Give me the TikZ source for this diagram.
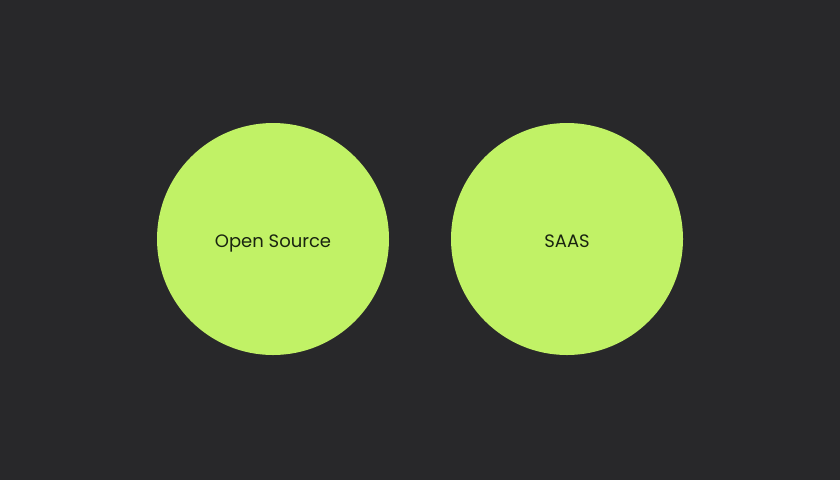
\documentclass[tikz,border=0pt]{standalone}
\usepackage{fontspec}
\setmainfont{Poppins}
\definecolor{bg}{HTML}{28282A}
\definecolor{lime}{HTML}{C1F266}
\definecolor{ink}{HTML}{1A2410}
\begin{document}
\begin{tikzpicture}[x=1pt,y=-1pt,
  blob/.style={circle,fill=lime,draw=none,minimum size=232pt,inner sep=0pt},
  lbl/.style={text=ink,font=\fontsize{18}{22}\selectfont,anchor=base}]
\fill[bg] (0,0) rectangle (840,480);
\useasboundingbox (0,0) rectangle (840,480);
\node[blob] (os) at (273,239) {};
\node[blob] (saas) at (567,239) {};
\node[lbl] (oslbl) at ([yshift=-8pt]os.center) {Open Source};
\node[lbl] (saaslbl) at ([yshift=-8pt]saas.center) {SAAS};
\end{tikzpicture}
\end{document}
